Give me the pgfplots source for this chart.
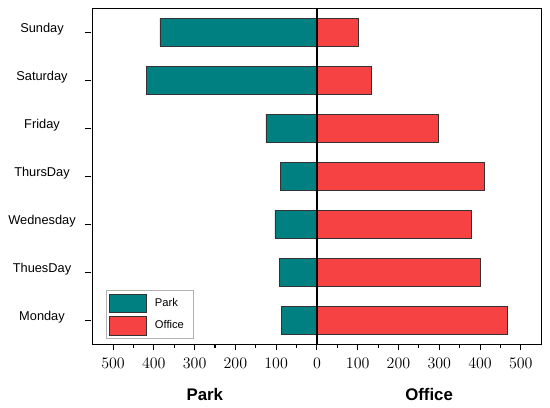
\documentclass[border=0pt]{standalone}
\usepackage{fontspec}
\setmainfont{Liberation Sans}
\usepackage{pgfplots}
\pgfplotsset{compat=1.18}
\usetikzlibrary{calc}
\definecolor{parkc}{RGB}{0,128,128}
\definecolor{officec}{RGB}{246,66,66}
\begin{document}
\begin{tikzpicture}
\begin{axis}[
  scale only axis,
  width=336.4pt, height=252pt,
  xmin=-550, xmax=550,
  ymin=-0.5, ymax=6.5,
  xbar, bar width=0.59,
  axis line style={line width=0.9pt},
  xtick={-500,-400,-300,-200,-100,0,100,200,300,400,500},
  xticklabels={$500$,$400$,$300$,$200$,$100$,$0$,$100$,$200$,$300$,$400$,$500$},
  minor x tick num=1,
  ytick={0,1,2,3,4,5,6},
  yticklabels={Monday,ThuesDay,Wednesday,ThursDay,Friday,Saturday,Sunday},
  xtick pos=lower, ytick pos=left,
  tick align=outside,
  major tick length=4pt, minor tick length=2.5pt,
  tick style={black, line width=0.8pt},
  ytick style={xshift=-1.5pt},
  xticklabel style={font=\fontsize{12.8}{14}\selectfont, yshift=-3pt},
  yticklabel style={font=\fontsize{9.6}{11}\selectfont, anchor=center, xshift=-34pt, yshift=2.6pt},
  legend style={at={(0.029,0.0155)}, anchor=south west, draw=black!30, line width=0.6pt,
    font=\fontsize{8.4}{10}\selectfont, inner xsep=2pt, inner ysep=2.5pt,
    row sep=2.3pt, column sep=0pt,
    nodes={inner sep=0pt, anchor=west},
    /tikz/every odd column/.append style={column sep=6pt}},
  legend cell align=left,
  legend image code/.code={\draw[#1, line width=0.6pt] (0pt,-6.85pt) rectangle (28pt,6.85pt);},
]
\addplot[fill=parkc, draw=black!80, line width=0.6pt, bar shift=0pt] coordinates {
  (-86,0) (-92,1) (-103,2) (-89,3) (-125,4) (-418,5) (-385,6)};
\addlegendentry{\makebox[27pt][l]{Park}}
\addplot[fill=officec, draw=black!80, line width=0.6pt, bar shift=0pt] coordinates {
  (466,0) (402,1) (378,2) (411,3) (298,4) (134,5) (102,6)};
\addlegendentry{\makebox[27pt][l]{Office}}
\draw[black, line width=0.9pt] (axis cs:0,-0.5) -- (axis cs:0,6.5);
\end{axis}
\node[font=\fontsize{12.6}{14}\selectfont\bfseries] at ($(current axis.south west)!0.25!(current axis.south east)+(0,-38pt)$) {Park};
\node[font=\fontsize{12.6}{14}\selectfont\bfseries] at ($(current axis.south west)!0.75!(current axis.south east)+(0,-38pt)$) {Office};
\pgfresetboundingbox
\path (current axis.south west)+(-69.5pt,-47.6pt) coordinate (bbA);
\path (current axis.north east)+(6.6pt,6.2pt) coordinate (bbB);
\useasboundingbox (bbA) rectangle (bbB);
\end{tikzpicture}
\end{document}
